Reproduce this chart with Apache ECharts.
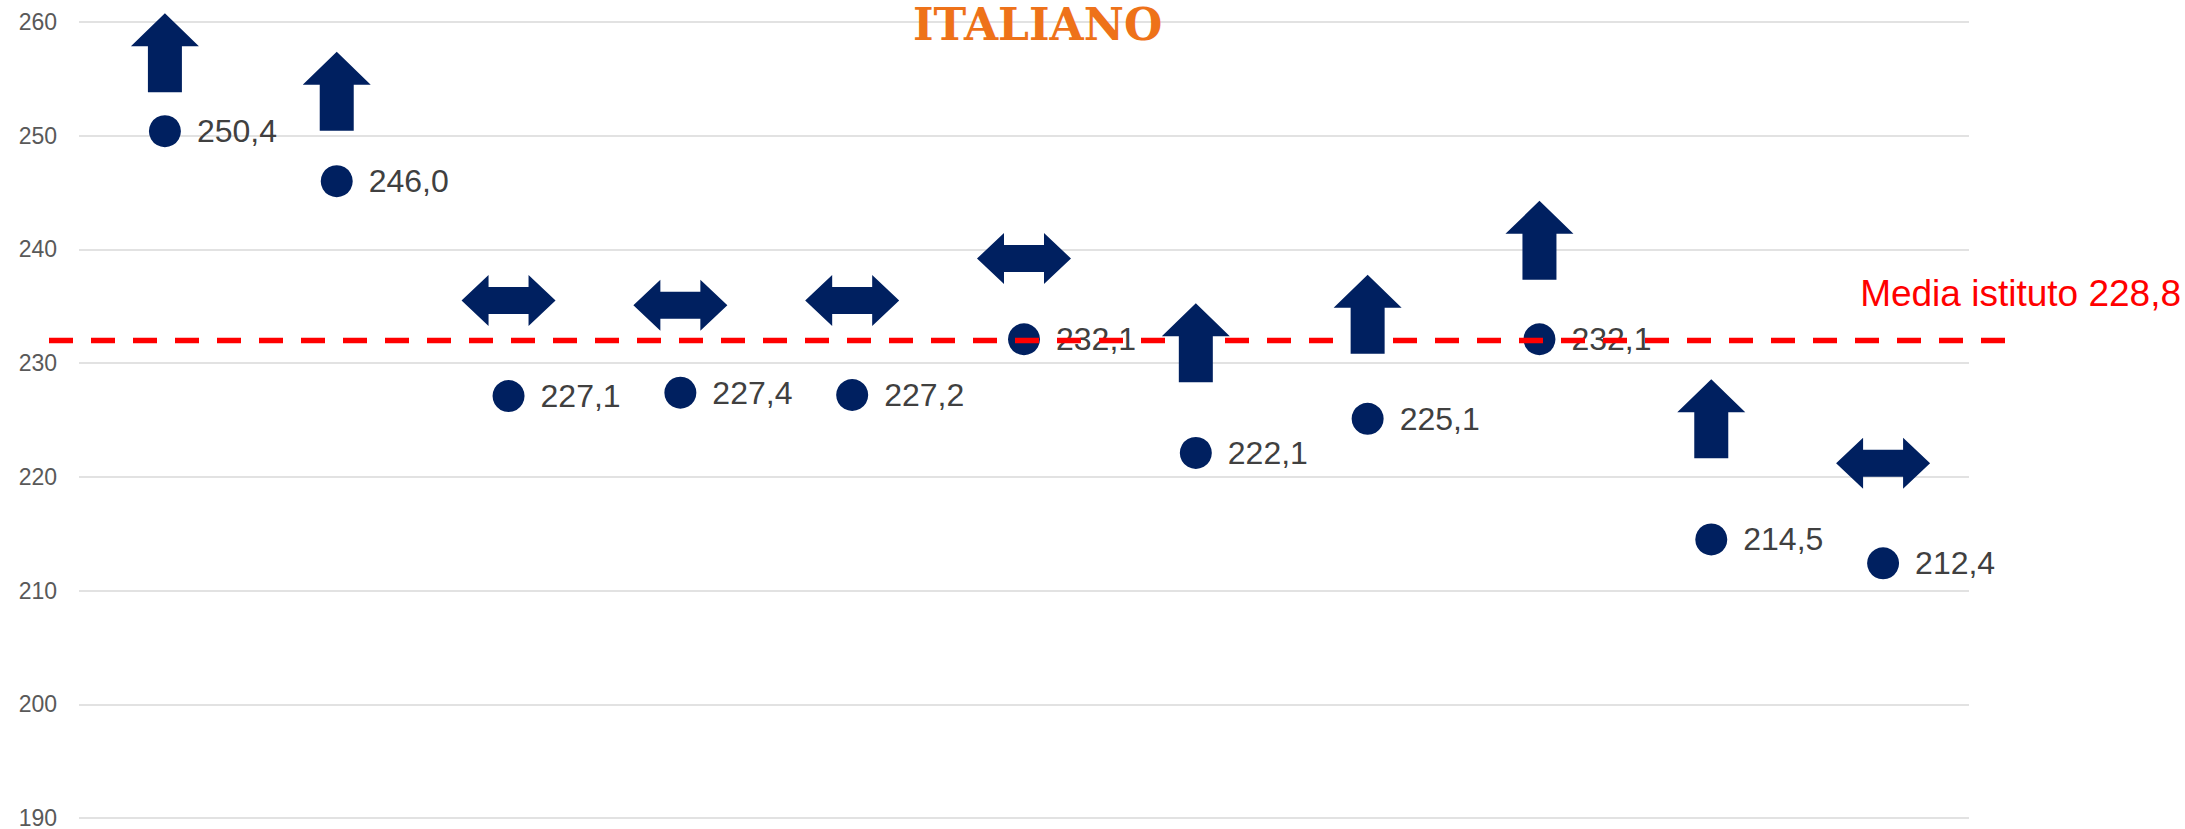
<!DOCTYPE html>
<html lang="it">
<head>
   <meta charset="UTF-8">
   <title>Italiano</title>
   <script src="https://cdn.jsdelivr.net/npm/echarts@6.0.0/dist/echarts.min.js"></script>
   <style type="text/css">
   body{margin:0; padding:0; background:#fff;}
   #main{width:2185px;height:829px;}
   </style>
</head>
<body>
<div id="main"></div>
</body>
<script type="text/javascript">
// dati
var categorie = ['1', '2', '3', '4', '5', '6', '7', '8', '9', '10', '11'];
var punteggi = [250.4, 246.0, 227.1, 227.4, 227.2, 232.1, 222.1, 225.1, 232.1, 214.5, 212.4];
// frecce di tendenza: altezza (valore asse y) e tipo
var frecceY = [257.3, 253.9, 235.5, 235.1, 235.5, 239.2, 231.8, 234.3, 240.8, 225.1, 221.2];
var frecceTipo = ['su', 'su', 'pari', 'pari', 'pari', 'pari', 'su', 'su', 'su', 'su', 'pari'];
// linea della media (disegnata a ~232 nel grafico originale)
var mediaY = [232.0, 232.0];
var mediaTesto = 'Media istituto 228,8';
var yMin = 190, yMax = 260, yStep = 10;

var blu = '#002060';
var frecciaSu = 'path://M34,0 L68,33 L51,33 L51,79 L17,79 L17,33 L0,33 Z';
var frecciaPari = 'path://M0,25.5 L27,0 L27,12 L67,12 L67,0 L94,25.5 L67,51 L67,39 L27,39 L27,51 Z';

var frecce = [];
for (var i = 0; i < frecceY.length; i++) {
    if (frecceTipo[i] == 'su') {
        frecce.push({value: frecceY[i], symbol: frecciaSu, symbolSize: [68, 79]});
    } else {
        frecce.push({value: frecceY[i], symbol: frecciaPari, symbolSize: [94, 51]});
    }
}

var myChart = echarts.init(document.getElementById('main'), null, {renderer: 'svg'});
var option = {
    animation: false,
    backgroundColor: '#fff',
    title: {
        text: 'ITALIANO',
        left: 913,
        top: 5,
        padding: 0,
        textStyle: {
            fontFamily: 'DejaVu Serif',
            fontWeight: 'bold',
            fontSize: 44,
            lineHeight: 38,
            color: '#EE7219'
        }
    },
    grid: [{
        left: 79,
        right: 216,
        top: 22,
        bottom: 11,
        outerBoundsMode: 'none'
    }, {
        left: 49,
        right: 177,
        top: 22,
        bottom: 11,
        outerBoundsMode: 'none'
    }],
    xAxis: [{
        type: 'category',
        data: categorie,
        boundaryGap: true,
        axisLine: {show: false},
        axisTick: {show: false},
        axisLabel: {show: false}
    }, {
        gridIndex: 1,
        type: 'category',
        data: ['inizio', 'fine'],
        boundaryGap: false,
        show: false
    }],
    yAxis: [{
        type: 'value',
        min: yMin,
        max: yMax,
        interval: yStep,
        axisLine: {show: false},
        axisTick: {show: false},
        axisLabel: {
            margin: 22,
            fontSize: 23,
            lineHeight: 20,
            color: '#595959',
            fontFamily: 'Liberation Sans'
        },
        splitLine: {lineStyle: {color: '#d9d9d9', width: 1.5}}
    }, {
        gridIndex: 1,
        type: 'value',
        min: yMin,
        max: yMax,
        show: false,
        splitLine: {show: false}
    }],
    series: [
        {
            name: 'punteggio',
            type: 'scatter',
            data: punteggi,
            symbol: 'circle',
            symbolSize: 32,
            z: 2,
            itemStyle: {color: blu, opacity: 1},
            label: {
                show: true,
                position: 'right',
                distance: 16,
                fontSize: 32,
                color: '#404040',
                fontFamily: 'Liberation Sans',
                formatter: function (p) {
                    return p.value.toFixed(1).replace('.', ',');
                }
            }
        },
        {
            name: 'media',
            type: 'line',
            xAxisIndex: 1,
            yAxisIndex: 1,
            data: mediaY,
            showSymbol: false,
            symbol: 'none',
            z: 3,
            lineStyle: {color: '#ff0000', width: 5.5, type: [24, 18], cap: 'butt'},
            endLabel: {
                show: true,
                distance: 0,
                align: 'right',
                offset: [173, -47],
                fontSize: 37,
                color: '#ff0000',
                fontFamily: 'Liberation Sans',
                formatter: function () { return mediaTesto; }
            }
        },
        {
            name: 'tendenza',
            type: 'scatter',
            data: frecce,
            z: 4,
            silent: true,
            itemStyle: {color: blu, opacity: 1}
        }
    ]
};
myChart.setOption(option);
</script>
</html>
